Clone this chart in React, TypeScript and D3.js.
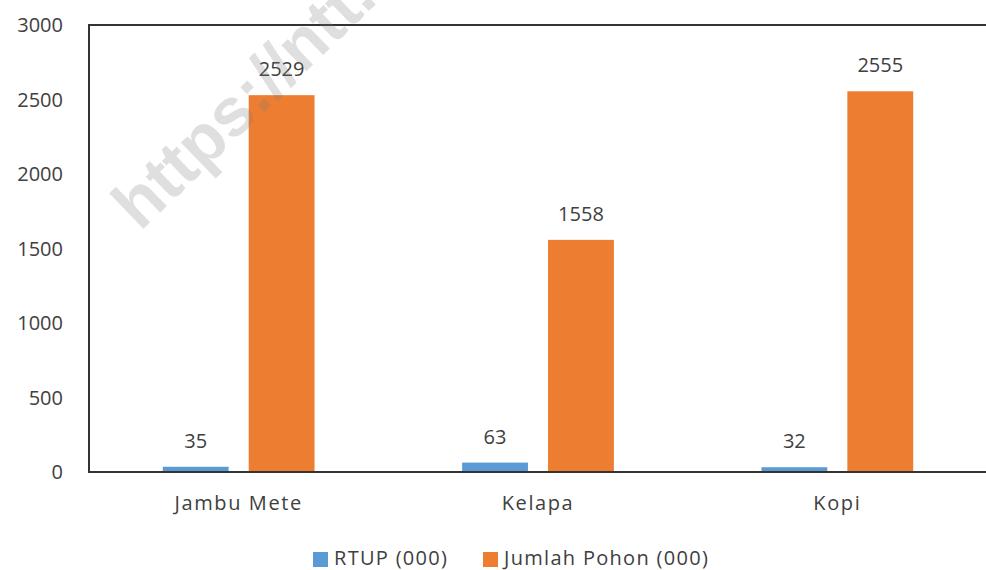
import React from "react";
import * as d3 from "d3";

const categories = ["Jambu Mete", "Kelapa", "Kopi"];
const seriesNames = ["RTUP (000)", "Jumlah Pohon (000)"];
const rtup = [35, 63, 32];
const jumlahPohon = [2529, 1558, 2555];
const yTicks = [0, 500, 1000, 1500, 2000, 2500, 3000];
const seriesColors = ["#5B9BD5", "#ED7D31"];

const W = 986;
const H = 570;
const margin = { left: 89, right: -1, top: 25, bottom: 98 };
const FONT = "'Open Sans', 'Noto Sans', sans-serif";
const TEXT = "#404040";

export default function App() {
  const x = d3
    .scaleBand<string>()
    .domain(categories)
    .range([margin.left, W - margin.right])
    .paddingInner(0)
    .paddingOuter(0);
  const y = d3
    .scaleLinear()
    .domain([0, 3000])
    .range([H - margin.bottom, margin.top]);

  const step = x.step();
  const barW = step * 0.22;
  const gap = step * 0.067;
  const values = [rtup, jumlahPohon];

  return (
    <svg
      width={W}
      height={H}
      style={{ position: "absolute", left: 0, top: 0, background: "#fff" }}
      fontFamily={FONT}
    >
      {/* bars */}
      {categories.map((c, i) => {
        const cx = (x(c) as number) + step / 2;
        return values.map((vals, s) => {
          const bx = s === 0 ? cx - gap / 2 - barW : cx + gap / 2;
          const v = vals[i];
          return (
            <g key={c + s}>
              <rect
                x={bx}
                y={y(v)}
                width={barW}
                height={y(0) - y(v)}
                fill={seriesColors[s]}
              />
              <text
                x={bx + barW / 2}
                y={y(v) - 19}
                textAnchor="middle"
                fontSize={20}
                fill={TEXT}
              >
                {v}
              </text>
            </g>
          );
        });
      })}

      {/* plot frame */}
      <rect
        x={margin.left}
        y={margin.top}
        width={W - margin.left - margin.right + 4}
        height={y(0) - margin.top}
        fill="none"
        stroke="#333"
        strokeWidth={2}
      />

      {/* y axis labels */}
      {yTicks.map((t) => (
        <text
          key={t}
          x={63}
          y={y(t)}
          dy="0.35em"
          textAnchor="end"
          fontSize={20}
          fill={TEXT}
        >
          {t}
        </text>
      ))}

      {/* category labels */}
      {categories.map((c) => (
        <text
          key={c}
          x={(x(c) as number) + step / 2}
          y={510}
          textAnchor="middle"
          fontSize={20}
          letterSpacing={1.6}
          fill={TEXT}
        >
          {c}
        </text>
      ))}

      {/* legend */}
      {seriesNames.map((n, i) => {
        const lx = i === 0 ? 313 : 483;
        return (
          <g key={n}>
            <rect x={lx} y={552} width={15} height={15} fill={seriesColors[i]} />
            <text x={lx + 21} y={565} fontSize={20} letterSpacing={1.3} fill={TEXT}>
              {n}
            </text>
          </g>
        );
      })}

      {/* watermark */}
      <text
        x={0}
        y={0}
        transform="translate(140,232) rotate(-44)"
        fontSize={68}
        fontWeight="bold"
        fontFamily="'Liberation Sans', Arial, sans-serif"
        fill="#7a7a7a"
        fillOpacity={0.24}
      >
        https://ntt.bps.go.id
      </text>
    </svg>
  );
}
